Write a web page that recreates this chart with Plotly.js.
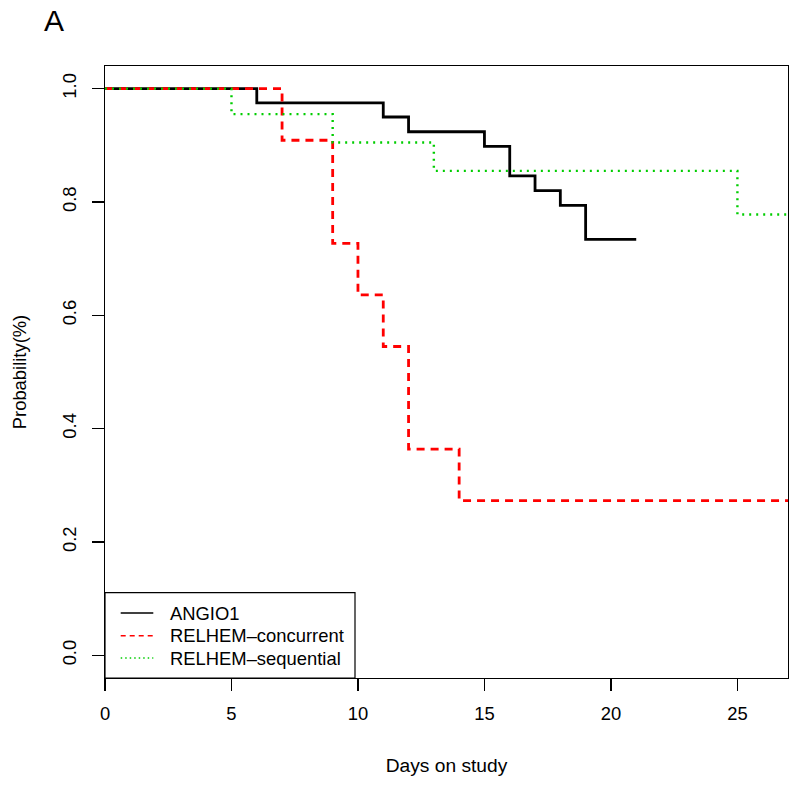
<!DOCTYPE html>
<html>
<head>
<meta charset="utf-8">
<script src="https://cdn.plot.ly/plotly-3.0.1.min.js"></script>
<style>html,body{margin:0;padding:0;background:#fff;}#chart{width:800px;height:787px;}</style>
</head>
<body>
<div id="chart"></div>
<script>
// ---- data ----
const seriesNames = ["ANGIO1", "RELHEM\u2013concurrent", "RELHEM\u2013sequential"];
const angioDays = [0, 6, 11, 12, 15, 16, 17, 18, 19, 21];
const angioSurv = [1.0, 0.975, 0.950, 0.924, 0.898, 0.846, 0.820, 0.794, 0.734, 0.734];
const concDays = [0, 7, 9, 10, 11, 12, 14, 27];
const concSurv = [1.0, 0.909, 0.727, 0.636, 0.545, 0.364, 0.273, 0.273];
const seqDays = [0, 5, 9, 13, 25, 27];
const seqSurv = [1.0, 0.955, 0.905, 0.855, 0.778, 0.778];
const xTicks = [0, 5, 10, 15, 20, 25];
const yTicks = [0.0, 0.2, 0.4, 0.6, 0.8, 1.0];

const FONT = "Liberation Sans, Arial, sans-serif";
const colors = ["#000000", "#ff0000", "#00cd00"];
const dashes = ["solid", "8px,6px", "2px,5px"];
const widths = [2.8, 2.8, 2.4];
const legendDashes = ["solid", "5px,4px", "1.5px,3px"];

const xs = [angioDays, concDays, seqDays];
const ys = [angioSurv, concSurv, seqSurv];

const traces = xs.map((x, i) => ({
  type: "scatter", mode: "lines", x: x, y: ys[i], name: seriesNames[i],
  line: {shape: "hv", color: colors[i], width: widths[i], dash: dashes[i]},
  showlegend: false, hoverinfo: "skip"
}));

// legend drawn as a boxed key (R style)
const L = 105, T = 592.7, R = 355, B = 678;
const plotL = 105, plotR = 788, plotT = 66, plotB = 678;
const px = v => (v - plotL) / (plotR - plotL);
const py = v => (plotB - v) / (plotB - plotT);
const rowsY = [613, 635.7, 658];

const shapes = [{
  type: "rect", xref: "paper", yref: "paper",
  x0: px(L), x1: px(R), y0: py(B), y1: py(T),
  line: {color: "#000", width: 1.2}, fillcolor: "#fff", layer: "above"
}];
const annotations = [];
seriesNames.forEach((n, i) => {
  shapes.push({
    type: "line", xref: "paper", yref: "paper",
    x0: px(120.7), x1: px(153.3), y0: py(rowsY[i]), y1: py(rowsY[i]),
    line: {color: colors[i], width: 1.5, dash: legendDashes[i]}, layer: "above"
  });
  annotations.push({
    xref: "paper", yref: "paper", x: px(168), y: py(rowsY[i]),
    xanchor: "left", yanchor: "middle", showarrow: false, text: n,
    font: {family: FONT, size: 18.4, color: "#000"}
  });
});
annotations.push({
  xref: "paper", yref: "paper", x: px(42), y: py(20),
  xanchor: "left", yanchor: "middle", showarrow: false, text: "A",
  font: {family: FONT, size: 30, color: "#000"}
});

const layout = {
  width: 800, height: 787,
  margin: {l: 105, r: 12, t: 66, b: 109, pad: 0},
  paper_bgcolor: "#fff", plot_bgcolor: "#fff",
  font: {family: FONT, size: 18.4, color: "#000"},
  showlegend: false,
  xaxis: {
    range: [0, 27], tickvals: xTicks, ticktext: xTicks.map(String),
    ticks: "outside", ticklen: 12, tickwidth: 1.2, tickcolor: "#000",
    showline: true, linecolor: "#000", linewidth: 1.2, mirror: true,
    showgrid: false, zeroline: false, ticklabelstandoff: 7,
    title: {text: "Days on study", font: {family: FONT, size: 19.2}, standoff: 35}
  },
  yaxis: {
    range: [-0.04, 1.04], tickvals: yTicks, ticktext: yTicks.map(v => v.toFixed(1)),
    tickangle: -90,
    ticks: "outside", ticklen: 12, tickwidth: 1.2, tickcolor: "#000",
    showline: true, linecolor: "#000", linewidth: 1.2, mirror: true,
    showgrid: false, zeroline: false, ticklabelstandoff: 8,
    title: {text: "Probability(%)", font: {family: FONT, size: 18.4}, standoff: 28}
  },
  shapes: shapes,
  annotations: annotations
};

Plotly.newPlot("chart", traces, layout, {displayModeBar: false, staticPlot: true});
</script>
</body>
</html>
